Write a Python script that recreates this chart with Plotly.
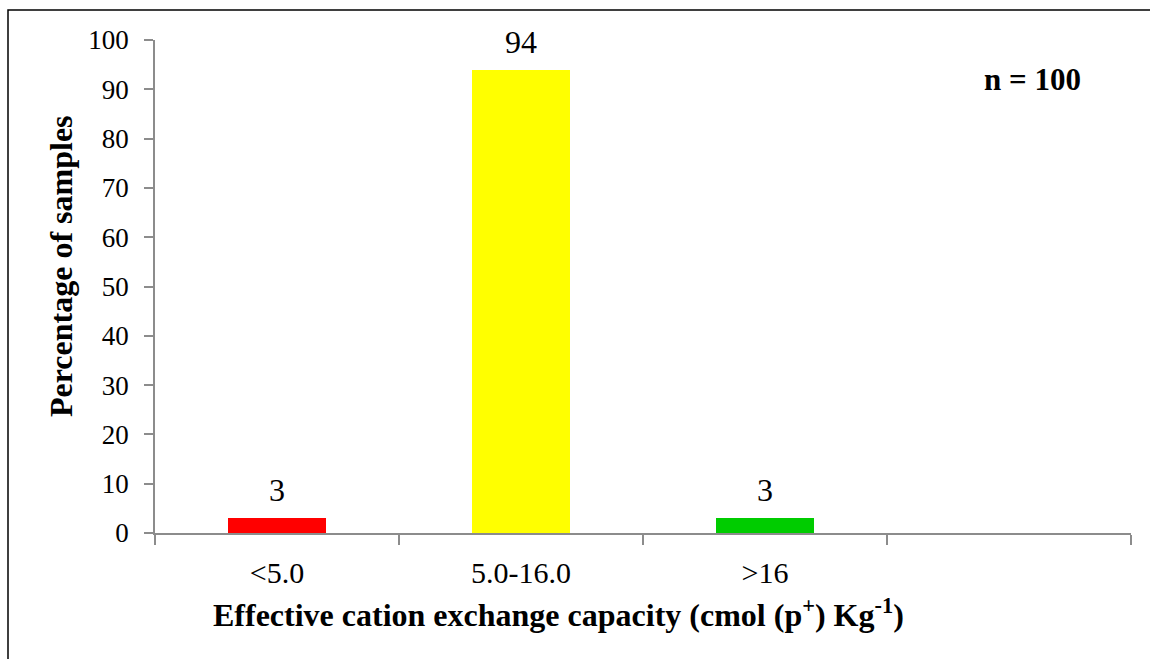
import plotly.graph_objects as go

categories = ["<5.0", "5.0-16.0", ">16"]
values = [3, 94, 3]
colors = ["#ff0000", "#ffff00", "#00cc00"]
y_ticks = [0, 10, 20, 30, 40, 50, 60, 70, 80, 90, 100]

FONT = "Liberation Serif, Times New Roman, serif"
positions = list(range(len(categories)))

fig = go.Figure()
fig.add_trace(go.Bar(
    x=positions, y=values, width=0.405,
    marker=dict(color=colors, line=dict(width=0)),
    showlegend=False, hoverinfo="x+y",
))

for xp, v in zip(positions, values):
    fig.add_annotation(
        x=xp, y=v, xref="x", yref="y", text=str(v), showarrow=False,
        xanchor="center", yanchor="middle", yshift=28,
        font=dict(family=FONT, size=32, color="black"),
    )

fig.update_layout(
    width=1150, height=659,
    margin=dict(l=155, r=19, t=40, b=126),
    paper_bgcolor="white", plot_bgcolor="white",
    font=dict(family=FONT, size=27, color="black"),
    bargap=0,
    xaxis=dict(
        range=[-0.5, 3.5], tickmode="array", tickvals=positions, ticktext=categories,
        ticks="", showgrid=False, zeroline=False, showline=True,
        linecolor="#8c8c8c", linewidth=1.5,
        tickfont=dict(family=FONT, size=30, color="black"),
        ticklabelstandoff=12,
        minor=dict(tickmode="array", tickvals=[-0.5, 0.5, 1.5, 2.5, 3.5],
                   ticks="outside", ticklen=10, tickcolor="#8c8c8c", tickwidth=1.5, showgrid=False),
    ),
    yaxis=dict(
        range=[0, 100], tickvals=y_ticks, ticks="outside", ticklen=9,
        tickcolor="#8c8c8c", tickwidth=1.5,
        showgrid=False, zeroline=False, showline=True, linecolor="#8c8c8c", linewidth=1.5,
        tickfont=dict(family=FONT, size=27, color="black"),
        ticklabelstandoff=10,
    ),
)

fig.add_annotation(
    text="<b>Percentage of samples</b>", textangle=-90,
    xref="paper", yref="paper", x=(61 - 155) / 976, y=(533 - 266) / 493,
    xanchor="center", yanchor="middle", showarrow=False,
    font=dict(family=FONT, size=32, color="black"),
)
fig.add_annotation(
    text="<b>Effective cation exchange capacity (cmol (p<sup>+</sup>) Kg<sup>-1</sup>)</b>",
    xref="paper", yref="paper", x=(558 - 155) / 976, y=(533 - 613) / 493,
    xanchor="center", yanchor="middle", showarrow=False,
    font=dict(family=FONT, size=32, color="black"),
)
fig.add_annotation(
    text="<b>n = 100</b>",
    xref="paper", yref="paper", x=(1032 - 155) / 976, y=(533 - 79) / 493,
    xanchor="center", yanchor="middle", showarrow=False,
    font=dict(family=FONT, size=31, color="black"),
)
fig.add_shape(
    type="rect", xref="paper", yref="paper",
    x0=(8 - 155) / 976, x1=(1170 - 155) / 976,
    y0=(533 - 680) / 493, y1=(533 - 10) / 493,
    line=dict(color="black", width=1.5), fillcolor="rgba(0,0,0,0)", layer="below",
)

fig.write_html("out.html", post_script="document.body.style.margin='0';",
               config={"displayModeBar": False})
